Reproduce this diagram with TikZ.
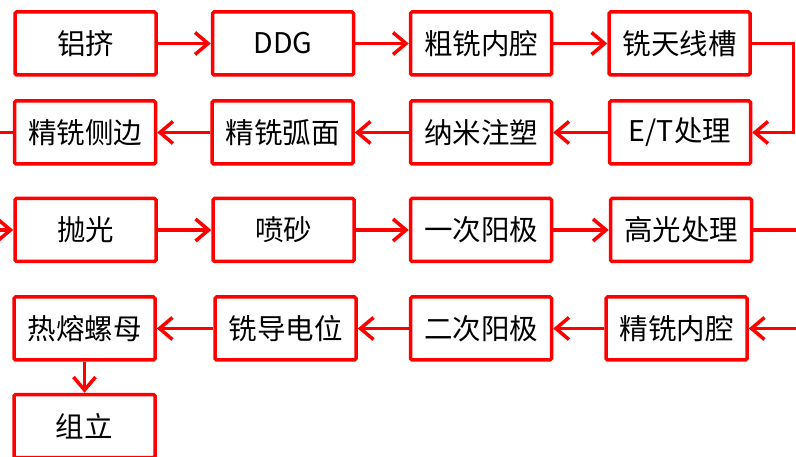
\documentclass[tikz,border=0pt]{standalone}
\usepackage{fontspec}
\setmainfont{Noto Sans CJK SC}
\usetikzlibrary{arrows.meta}
\begin{document}
\begin{tikzpicture}[x=1pt,y=-1pt,
  box/.style={draw=red,line width=3.5pt,rounded corners=1.5pt,minimum width=141pt,minimum height=63pt,inner sep=0pt,
    font=\fontsize{28.5}{30}\selectfont,text=black},
  conn/.style={draw=red,line width=3.5pt},
  arr/.style={conn,-{Straight Barb[length=13pt,width=22pt,line width=3.5pt]}}]
\useasboundingbox (0,0) rectangle (796,457);
% row 1
\node[box] (a1) at (85.5,43.5) {铝挤};
\node[box] (a2) at (283,43.5) {DDG};
\node[box] (a3) at (481,43.5) {粗铣内腔};
\node[box] (a4) at (679.5,43.5) {铣天线槽};
% row 2
\node[box] (b1) at (680,132.5) {E/T处理};
\node[box] (b2) at (481,132.5) {纳米注塑};
\node[box] (b3) at (282.5,132.5) {精铣弧面};
\node[box] (b4) at (85,132.5) {精铣侧边};
% row 3
\node[box] (c1) at (85.5,230) {抛光};
\node[box] (c2) at (283.5,230) {喷砂};
\node[box] (c3) at (481,230) {一次阳极};
\node[box] (c4) at (681,230) {高光处理};
% row 4
\node[box] (d1) at (676.5,328.5) {精铣内腔};
\node[box] (d2) at (285.5,328.5) {铣导电位};
\node[box] (d3) at (481,328.5) {二次阳极};
\node[box] (d4) at (84.5,328.5) {热熔螺母};
% row 5
\node[box] (e1) at (84.5,426) {组立};
% free ends
\coordinate (r1) at (793.5,43.5);
\coordinate (r2) at (793.5,132.5);
\coordinate (l2) at (-2,132.5);
\coordinate (l3) at (-2,230);
\coordinate (r3) at (798,230);
\coordinate (r4) at (798,328.5);
% connectors
\draw[arr] (a1) -- (a2);
\draw[arr] (a2) -- (a3);
\draw[arr] (a3) -- (a4);
\draw[arr] (a4.east) -- (r1) -- (r2) -- (b1.east);
\draw[arr] (b1) -- (b2);
\draw[arr] (b2) -- (b3);
\draw[arr] (b3) -- (b4);
\draw[conn] (b4.west) -- (l2);
\draw[arr] (l3) -- (c1.west);
\draw[arr] (c1) -- (c2);
\draw[arr] (c2) -- (c3);
\draw[arr] (c3) -- (c4);
\draw[conn] (c4.east) -- (r3);
\draw[arr] (r4) -- (d1.east);
\draw[arr] (d1.west) -- (d3.east);
\draw[arr] (d3.west) -- (d2.east);
\draw[arr] (d2.west) -- (d4.east);
\draw[arr] (d4) -- (e1);
\end{tikzpicture}
\end{document}
